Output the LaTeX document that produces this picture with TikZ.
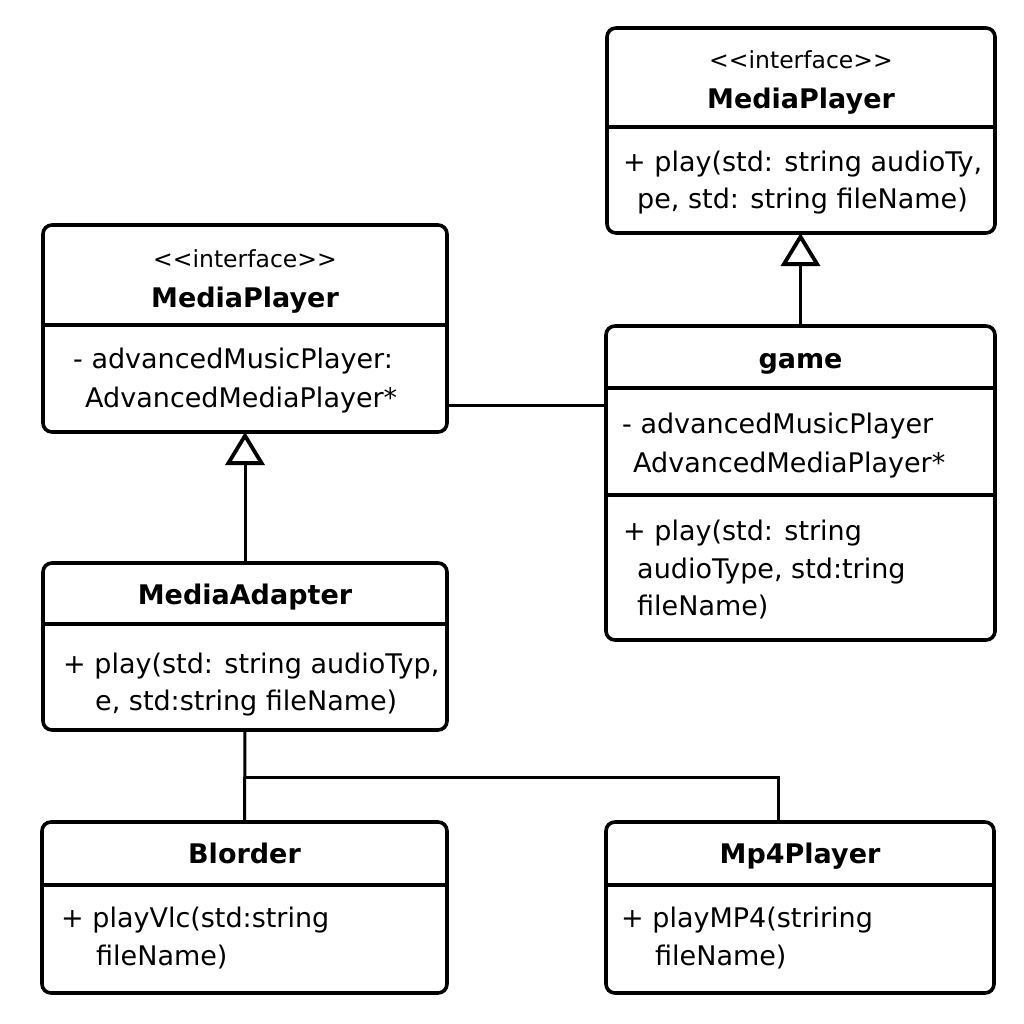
\documentclass[tikz,border=0pt]{standalone}
\usepackage{fontspec}
\setmainfont{DejaVu Sans}
\usetikzlibrary{arrows.meta,calc}
\tikzset{
 umlbox/.style={draw=black, line width=3.6pt, rounded corners=9pt, fill=white, inner sep=0pt, outer sep=0pt},
 divl/.style={line width=3.2pt},
 conn/.style={line width=3pt},
 txt/.style={anchor=base west, inner sep=0pt, font=\fontsize{27}{32}\selectfont},
 ttl/.style={anchor=base, inner sep=0pt, font=\fontsize{27}{32}\selectfont\bfseries},
 stereo/.style={anchor=base, inner sep=0pt, font=\fontsize{23.5}{28}\selectfont},
 gen/.style={-{Triangle[open, length=33pt, width=39pt, line width=3.8pt]}},
}
\begin{document}
\begin{tikzpicture}[x=1pt, y=-1pt]
\path[fill=white, use as bounding box] (0,0) rectangle (1024,1024);

% boxes
\node[umlbox, minimum width=388pt, minimum height=205pt] (mpR) at (801,130.5) {};
\node[umlbox, minimum width=404pt, minimum height=207pt] (mpL) at (245,328.5) {};
\node[umlbox, minimum width=389pt, minimum height=314pt] (game) at (800.5,483) {};
\node[umlbox, minimum width=404pt, minimum height=167pt] (ma) at (245,646.5) {};
\node[umlbox, minimum width=405pt, minimum height=171pt] (bl) at (244.5,907.5) {};
\node[umlbox, minimum width=388pt, minimum height=171pt] (mp4) at (800,907.5) {};

% dividers
\draw[divl] (mpR.west |- 0,127) -- (mpR.east |- 0,127);
\draw[divl] (mpL.west |- 0,325) -- (mpL.east |- 0,325);
\draw[divl] (game.west |- 0,388) -- (game.east |- 0,388);
\draw[divl] (game.west |- 0,495) -- (game.east |- 0,495);
\draw[divl] (ma.west |- 0,624) -- (ma.east |- 0,624);
\draw[divl] (bl.west |- 0,885) -- (bl.east |- 0,885);
\draw[divl] (mp4.west |- 0,885) -- (mp4.east |- 0,885);

% texts: MediaPlayer (right)
\node[stereo] (mpRs) at (801,69) {<{}<interface>{}>};
\node[ttl] (mpRt) at (801,109) {MediaPlayer};
\node[txt] (mpR1) at (623,172) {+ play(std: string audioTy,};
\node[txt] (mpR2) at (637,209) {pe, std: string fileName)};

% MediaPlayer (left)
\node[stereo] (mpLs) at (245,267) {<{}<interface>{}>};
\node[ttl] (mpLt) at (245,307) {MediaPlayer};
\node[txt] (mpL1) at (73,368) {- advancedMusicPlayer:};
\node[txt] (mpL2) at (85,407) {AdvancedMediaPlayer*};

% game
\node[ttl] (gamet) at (800.5,368) {game};
\node[txt] (game1) at (622,433) {- advancedMusicPlayer};
\node[txt] (game2) at (633,472) {AdvancedMediaPlayer*};
\node[txt] (game3) at (623,540) {+ play(std: string};
\node[txt] (game4) at (637,578) {audioType, std:tring};
\node[txt] (game5) at (637,615) {fileName)};

% MediaAdapter
\node[ttl] (mat) at (245,604) {MediaAdapter};
\node[txt] (ma1) at (63,673) {+ play(std: string audioTyp,};
\node[txt] (ma2) at (95,710) {e, std:string fileName)};

% Blorder
\node[ttl] (blt) at (244.5,863) {Blorder};
\node[txt] (bl1) at (61,927) {+ playVlc(std:string};
\node[txt] (bl2) at (96,965) {fileName)};

% Mp4Player
\node[ttl] (mp4t) at (800,863) {Mp4Player};
\node[txt] (mp41) at (621,927) {+ playMP4(striring};
\node[txt] (mp42) at (655,965) {fileName)};

% connectors
\draw[conn, gen] (game.north) -- (game.north |- mpR.south);
\draw[conn, gen] (ma.north) -- (ma.north |- mpL.south);
\draw[conn] ([yshift=-76.5pt]mpL.east) -- ([yshift=-76.5pt]mpL.east -| game.west);
\draw[conn] (ma.south) -- (bl.north);
\coordinate (jn) at ($(ma.south)!0.52!(bl.north)$);
\draw[conn] (jn) -| ([xshift=-22pt]mp4.north);
\end{tikzpicture}
\end{document}
